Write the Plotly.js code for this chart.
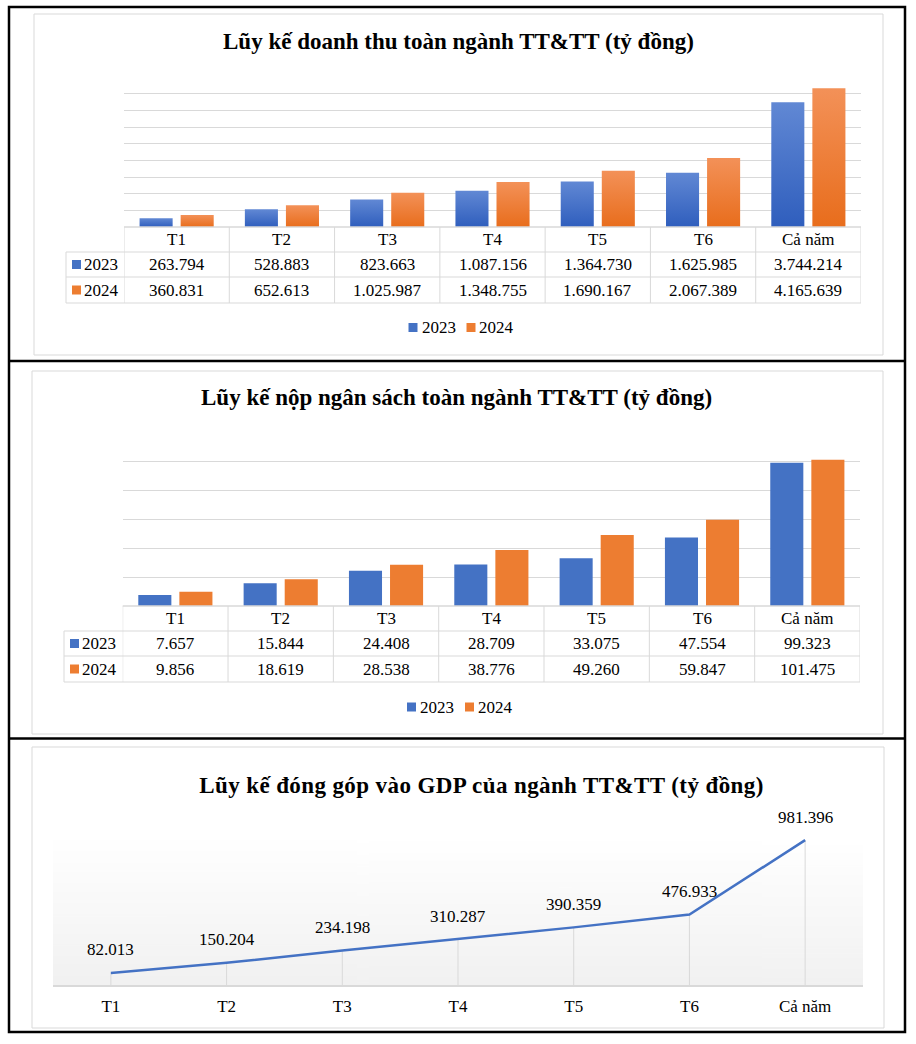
<!DOCTYPE html>
<html><head><meta charset="utf-8">
<script src="https://cdn.plot.ly/plotly-3.0.1.min.js"></script>
<style>html,body{margin:0;padding:0;background:#fff}#chart{width:916px;height:1044px}</style>
</head><body><div id="chart"></div>
<script>
// ---------- data ----------
const categories = ['T1', 'T2', 'T3', 'T4', 'T5', 'T6', 'Cả năm'];
const seriesNames = ['2023', '2024'];
const revenue2023 = [263794, 528883, 823663, 1087156, 1364730, 1625985, 3744214];
const revenue2024 = [360831, 652613, 1025987, 1348755, 1690167, 2067389, 4165639];
const budget2023 = [7657, 15844, 24408, 28709, 33075, 47554, 99323];
const budget2024 = [9856, 18619, 28538, 38776, 49260, 59847, 101475];
const gdpContribution = [82013, 150204, 234198, 310287, 390359, 476933, 981396];
const chartTitles = [
  'Lũy kế doanh thu toàn ngành TT&TT (tỷ đồng)',
  'Lũy kế nộp ngân sách toàn ngành TT&TT (tỷ đồng)',
  'Lũy kế đóng góp vào GDP của ngành TT&TT (tỷ đồng)'
];

// ---------- helpers ----------
const W = 916, H = 1044;
const px = x => x / W;
const py = y => 1 - y / H;
const fmt = v => String(v).replace(/\B(?=(\d{3})+(?!\d))/g, '.');
const SERIF = "'Times New Roman', 'Liberation Serif', serif";
const BLUE = '#4472C4', ORANGE = '#ED7D31';
const GRID = '#d9d9d9';
const colors = [BLUE, ORANGE];

const shapes = [];
const annotations = [];

function line(x0, y0, x1, y1, color, width) {
  shapes.push({type: 'line', xref: 'paper', yref: 'paper',
    x0: px(x0), x1: px(x1), y0: py(y0), y1: py(y1),
    line: {color: color, width: width}});
}
function rect(x0, y0, x1, y1, fill, lineColor, lw) {
  shapes.push({type: 'rect', xref: 'paper', yref: 'paper',
    x0: px(x0), x1: px(x1), y0: py(y0), y1: py(y1),
    fillcolor: fill || 'rgba(0,0,0,0)',
    line: {color: lineColor || 'rgba(0,0,0,0)', width: lw || 0}});
}
function text(t, x, y, opts) {
  opts = opts || {};
  annotations.push(Object.assign({
    text: t, xref: 'paper', yref: 'paper', x: px(x), y: py(y),
    xanchor: 'center', yanchor: 'middle', showarrow: false,
    font: {family: SERIF, size: 17, color: '#000'}
  }, opts));
}

// ---------- titles (annotation indices 0..2) ----------
const titleFont = {family: SERIF, size: 23, color: '#000'};
text('<b>' + chartTitles[0] + '</b>', 458, 41, {font: titleFont});
text('<b>' + chartTitles[1] + '</b>', 456, 397, {font: titleFont});
text('<b>' + chartTitles[2] + '</b>', 481.5, 785, {font: titleFont});

// ---------- frames ----------
rect(9, 7, 905, 1032, null, '#000', 2.5);
line(9, 361, 905, 361, '#000', 2.5);
line(9, 738.5, 905, 738.5, '#000', 2.5);
rect(34, 14, 883, 355, null, GRID, 1);
rect(32, 371, 883, 734, null, GRID, 1);
rect(32, 747, 884, 1028, null, GRID, 1);

// ---------- data tables ----------
function dataTable(xref, leftX, plotL, plotR, rows, keyX, textX, vals) {
  line(plotL, rows[0], plotR, rows[0], GRID, 1.5);
  for (let r = 1; r < rows.length; r++) line(leftX, rows[r], plotR, rows[r], GRID, 1);
  line(leftX, rows[1], leftX, rows[3], GRID, 1);
  for (let i = 0; i <= categories.length; i++) {
    shapes.push({type: 'line', xref: xref, yref: 'paper', x0: i - 0.5, x1: i - 0.5,
      y0: py(rows[0]), y1: py(rows[3]), line: {color: GRID, width: 1}});
  }
  const mid = r => (rows[r] + rows[r + 1]) / 2;
  categories.forEach((c, i) => {
    annotations.push({text: c, xref: xref, yref: 'paper', x: i, y: py(mid(0)),
      xanchor: 'center', yanchor: 'middle', showarrow: false,
      font: {family: SERIF, size: 17, color: '#000'}});
    vals.forEach((series, s) => {
      annotations.push({text: fmt(series[i]), xref: xref, yref: 'paper', x: i, y: py(mid(s + 1)),
        xanchor: 'center', yanchor: 'middle', showarrow: false,
        font: {family: SERIF, size: 17, color: '#000'}});
    });
  });
  seriesNames.forEach((n, s) => {
    const m = mid(s + 1);
    rect(keyX, m - 4.5, keyX + 9, m + 4.5, colors[s]);
    text(n, textX, m, {xanchor: 'left'});
  });
}
dataTable('x', 66, 124, 861, [227, 252, 277, 303], 72, 82, [revenue2023, revenue2024]);
dataTable('x2', 64, 122.7, 860, [606, 631, 656, 682], 70, 80, [budget2023, budget2024]);

// ---------- manual legends ----------
function legendRow(y, startX) {
  let x = startX;
  seriesNames.forEach((n, s) => {
    rect(x, y - 4.5, x + 9, y + 4.5, colors[s]);
    text(n, x + 11, y, {xanchor: 'left'});
    x += 58;
  });
}
legendRow(327.5, 408.5);
legendRow(707, 407);

// ---------- data labels of the line ----------
gdpContribution.forEach((v, i) => {
  annotations.push({text: fmt(v), xref: 'x3', yref: 'y3', x: categories[i], y: v,
    xanchor: 'center', yanchor: 'middle', yshift: 23, showarrow: false,
    font: {family: SERIF, size: 17, color: '#000'}});
});

// ---------- gradient background for line panel ----------
const cv = document.createElement('canvas');
cv.width = 4; cv.height = 200;
const ctx = cv.getContext('2d');
const g = ctx.createLinearGradient(0, 0, 0, 200);
g.addColorStop(0, '#ffffff');
g.addColorStop(1, '#f1f1f1');
ctx.fillStyle = g; ctx.fillRect(0, 0, 4, 200);
const gradURL = cv.toDataURL('image/png');

// ---------- traces ----------
const traces = [
  {type: 'bar', x: categories, y: revenue2023, name: seriesNames[0], xaxis: 'x', yaxis: 'y',
   marker: {color: '#4875CA'}, showlegend: false},
  {type: 'bar', x: categories, y: revenue2024, name: seriesNames[1], xaxis: 'x', yaxis: 'y',
   marker: {color: '#EF7C2D'}, showlegend: false},
  {type: 'bar', x: categories, y: budget2023, name: seriesNames[0], xaxis: 'x2', yaxis: 'y2',
   marker: {color: BLUE}, showlegend: false},
  {type: 'bar', x: categories, y: budget2024, name: seriesNames[1], xaxis: 'x2', yaxis: 'y2',
   marker: {color: ORANGE}, showlegend: false},
  {type: 'scatter', mode: 'lines', x: categories, y: gdpContribution, xaxis: 'x3', yaxis: 'y3',
   line: {color: BLUE, width: 2.5}, cliponaxis: false, showlegend: false,
   error_y: {type: 'data', symmetric: false, array: gdpContribution.map(() => 0),
     arrayminus: gdpContribution, color: GRID, thickness: 1, width: 0}}
];

const hiddenX = {type: 'category', showticklabels: false, showgrid: false, zeroline: false,
  showline: false, ticks: '', range: [-0.5, 6.5], fixedrange: true};
const layout = {
  width: W, height: H,
  margin: {l: 0, r: 0, t: 0, b: 0},
  paper_bgcolor: '#fff', plot_bgcolor: 'rgba(0,0,0,0)',
  showlegend: false,
  barmode: 'group',
  bargap: 0.22, bargroupgap: 0.195,
  xaxis: Object.assign({}, hiddenX, {domain: [px(124), px(861)], anchor: 'y'}),
  yaxis: {domain: [py(227), py(77)], range: [0, 4500000], dtick: 500000, showgrid: true,
    gridcolor: GRID, gridwidth: 1, showticklabels: false, zeroline: false, ticks: '', anchor: 'x'},
  xaxis2: Object.assign({}, hiddenX, {domain: [px(122.7), px(860)], anchor: 'y2'}),
  yaxis2: {domain: [py(606), py(433)], range: [0, 120000], dtick: 20000, showgrid: true,
    gridcolor: GRID, gridwidth: 1, showticklabels: false, zeroline: false, ticks: '', anchor: 'x2'},
  xaxis3: {type: 'category', domain: [px(53), px(863)], anchor: 'y3', range: [-0.5, 6.5],
    showgrid: false, zeroline: false, showline: true, linecolor: GRID, linewidth: 1.5, ticks: '',
    tickfont: {family: SERIF, size: 17, color: '#000'}, ticklabelstandoff: 5},
  yaxis3: {domain: [py(985), py(830)], range: [0, 1050000], showgrid: false, showticklabels: false,
    zeroline: false, ticks: '', anchor: 'x3'},
  images: [{source: gradURL, xref: 'paper', yref: 'paper', x: px(53), y: py(840),
    sizex: px(863) - px(53), sizey: py(840) - py(985), xanchor: 'left', yanchor: 'top',
    sizing: 'stretch', layer: 'below'}],
  shapes: shapes,
  annotations: annotations,
  hovermode: false
};

Plotly.newPlot('chart', traces, layout, {staticPlot: true, displayModeBar: false}).then(gd => {
  // vertical gradient fill on the bars of the first chart (style only)
  const NS = 'http://www.w3.org/2000/svg';
  const svg = gd.querySelector('svg.main-svg');
  let defs = svg.querySelector('defs');
  if (!defs) { defs = document.createElementNS(NS, 'defs'); svg.insertBefore(defs, svg.firstChild); }
  const grads = [['revBlueGrad', '#6188D4', '#2F5EBD'], ['revOrangeGrad', '#F39158', '#E86D1C']];
  grads.forEach(([id, top, bottom]) => {
    const lg = document.createElementNS(NS, 'linearGradient');
    lg.setAttribute('id', id);
    lg.setAttribute('x1', '0'); lg.setAttribute('y1', '0');
    lg.setAttribute('x2', '0'); lg.setAttribute('y2', '1');
    [[0, top], [1, bottom]].forEach(([o, c]) => {
      const st = document.createElementNS(NS, 'stop');
      st.setAttribute('offset', o); st.setAttribute('stop-color', c);
      lg.appendChild(st);
    });
    defs.appendChild(lg);
  });
  const trs = gd.querySelectorAll('.subplot.xy .barlayer .trace');
  trs.forEach((t, i) => {
    t.querySelectorAll('path').forEach(p => { p.style.fill = 'url(#' + grads[i % 2][0] + ')'; });
  });
  // slightly wider letter spacing of the third title, as in the original
  const a3 = gd.querySelector('.annotation[data-index="2"] text');
  if (a3) a3.style.letterSpacing = '0.4px';
});
</script>
</body></html>
